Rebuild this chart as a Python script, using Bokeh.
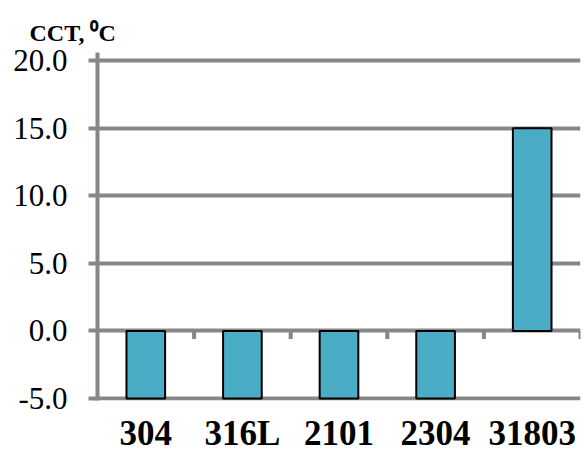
from bokeh.plotting import figure
from bokeh.models import Range1d, FixedTicker, PrintfTickFormatter, ColumnDataSource
from bokeh.embed import file_html
from bokeh.resources import INLINE

categories = ["304", "316L", "2101", "2304", "31803"]
cct = [-5.0, -5.0, -5.0, -5.0, 15.0]
y_ticks = [-5, 0, 5, 10, 15, 20]
title_text = "CCT, \u2070C"

n = len(categories)
centers = [i + 0.5 for i in range(n)]
bounds = [i + 1 for i in range(n)]
y_lo, y_hi = min(y_ticks), max(y_ticks)

GRID = "#878787"
BAR = "#4BACC6"
SERIF = "Liberation Serif"

p = figure(width=585, height=455, output_backend="svg", toolbar_location=None,
           x_range=Range1d(0, n), y_range=Range1d(y_lo - 0.15, y_hi + 0.6),
           min_border_left=97, min_border_right=5, min_border_top=52, min_border_bottom=55)
p.outline_line_color = None
p.background_fill_color = "white"
p.border_fill_color = "white"

# title
p.title.text = title_text
p.title.text_font = SERIF
p.title.text_font_style = "bold"
p.title.text_font_size = "24px"
p.title.align = "left"
p.title.vertical_align = "top"
p.title.offset = -68
p.title.standoff = 10
p.title.text_color = "black"
p.title.background_fill_color = None
p.title.border_line_color = None

# horizontal gridlines (drawn below the bars)
p.xgrid.visible = False
p.ygrid.visible = False
p.hspan(y=y_ticks, line_color=GRID, line_width=4)

# y axis
p.yaxis.ticker = FixedTicker(ticks=y_ticks)
p.yaxis.formatter = PrintfTickFormatter(format="%.1f")
p.yaxis.axis_line_color = GRID
p.yaxis.axis_line_width = 4
p.yaxis.major_tick_line_color = GRID
p.yaxis.major_tick_line_width = 4
p.yaxis.major_tick_out = 9
p.yaxis.major_tick_in = 0
p.yaxis.minor_tick_line_color = None
p.yaxis.major_label_text_font = SERIF
p.yaxis.major_label_text_font_size = "31px"
p.yaxis.major_label_text_color = "black"
p.yaxis.major_label_standoff = 21

# x axis: category labels below the plot
p.xaxis.ticker = FixedTicker(ticks=centers)
p.xaxis.major_label_overrides = {c: lab for c, lab in zip(centers, categories)}
p.xaxis.axis_line_color = None
p.xaxis.major_tick_line_color = None
p.xaxis.minor_tick_line_color = None
p.xaxis.major_tick_out = 0
p.xaxis.major_tick_in = 0
p.xaxis.major_label_text_font = SERIF
p.xaxis.major_label_text_font_style = "bold"
p.xaxis.major_label_text_font_size = "35px"
p.xaxis.major_label_text_color = "black"
p.xaxis.major_label_standoff = 13

src = ColumnDataSource(dict(x=centers, top=cct, cat=categories))
p.vbar(x="x", top="top", bottom=0, width=0.4, source=src,
       fill_color=BAR, line_color="black", line_width=2)

# category tick marks hanging below the zero line
tick_len = 0.6
p.segment(x0=bounds, y0=[0] * n, x1=bounds, y1=[-tick_len] * n,
          line_color=GRID, line_width=4)

open("out.html", "w").write(file_html(p, INLINE))
